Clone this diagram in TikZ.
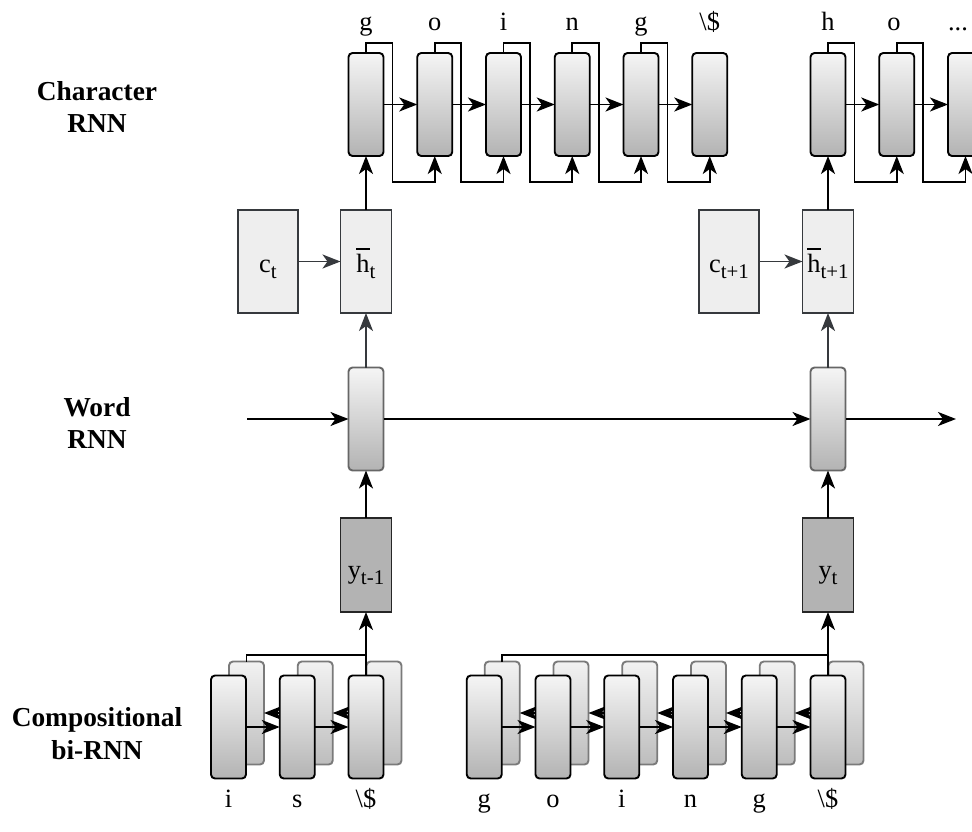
\documentclass[tikz,border=0pt]{standalone}
\usepackage{fontspec}
\setmainfont{Liberation Serif}
\usetikzlibrary{arrows.meta}

\definecolor{cellTop}{HTML}{F5F5F5}
\definecolor{cellBot}{HTML}{B3B3B3}
\definecolor{boxFill}{HTML}{EEEEEE}
\definecolor{boxLine}{HTML}{36393D}
\definecolor{outFill}{HTML}{B3B3B3}
\definecolor{softLine}{HTML}{666666}
\definecolor{backLine}{HTML}{7A7A7A}
\definecolor{backTop}{HTML}{F2F2F2}
\definecolor{backBot}{HTML}{BDBDBD}

% subscript as set in the boxes (takes no vertical room)
\newcommand\sbs[1]{\raisebox{-6bp}[0pt][0pt]{\fontsize{21}{21}\selectfont #1}}
% h with a bar over it
\newcommand\barh{\leavevmode\setbox0\hbox{h}\rlap{\raisebox{\dimexpr\ht0+4bp\relax}[0pt][0pt]{\rule{\wd0}{1.3bp}}}h}

\begin{document}
\begin{tikzpicture}[x=1bp,y=-1bp,
  cellbox/.style={draw=black, line width=1.9bp, rounded corners=4bp,
    top color=cellTop, bottom color=cellBot,
    minimum width=35bp, minimum height=103bp, inner sep=0pt, outer sep=0pt},
  wordcell/.style={cellbox, draw=softLine},
  backcell/.style={cellbox, draw=backLine, top color=backTop, bottom color=backBot},
  hidbox/.style={draw=boxLine, fill=boxFill, line width=1.9bp,
    minimum width=51bp, minimum height=103bp, inner sep=0pt, outer sep=0pt,
    text height=21bp, text depth=0bp,
    font=\fontsize{26.5}{32}\selectfont},
  outbox/.style={hidbox, fill=outFill, draw=black!85, minimum height=94bp,
    text height=26bp},
  lett/.style={anchor=base, inner sep=0pt, font=\fontsize{26.5}{32}\selectfont},
  lbl/.style={align=center, inner sep=0pt, font=\fontsize{27.5}{33}\selectfont\bfseries},
  tip/.style={-{Stealth[length=18bp,width=14bp,inset=5bp]}},
  arr/.style={line width=1.8bp, tip},
  darr/.style={line width=1.8bp, draw=boxLine, tip},
  plain/.style={line width=1.8bp}
]
\useasboundingbox (0,0) rectangle (972,832);
\clip (0,0) rectangle (972,832);

% ---------- left-hand labels ----------
\node[lbl] (lchar) at (97,107) {Character\\RNN};
\node[lbl] (lword) at (97,423) {Word\\RNN};
\node[lbl] (lcomp) at (97,734) {Compositional\\bi-RNN};

% ---------- character RNN, first word ----------
\foreach \i/\x in {1/366,2/434.75,3/503.5,4/572.25,5/641,6/709.75}
  \node[cellbox] (a\i) at (\x,104.5) {};
\foreach \i/\x/\t in {1/366/g,2/434.75/o,3/503.5/i,4/572.25/n,5/641/g,6/709.75/\textbackslash\$}
  \node[lett] (ta\i) at (\x,30) {\t};
\foreach \i/\j in {1/2,2/3,3/4,4/5,5/6}{
  \draw[arr] (a\i.east) -- (a\j.west);
  \draw[arr] (a\i.north) |- ++(26.5,-10) -- ++(0,139) -| (a\j.south);
}

% ---------- character RNN, second word ----------
\foreach \i/\x in {1/828,2/896.75,3/965.5}
  \node[cellbox] (b\i) at (\x,104.5) {};
\node[lett] (tb1) at (828,30) {h};
\node[lett] (tb2) at (894,30) {o};
\node[lett] (tb3) at (958,30) {...};
\foreach \i/\j in {1/2,2/3}{
  \draw[arr] (b\i.east) -- (b\j.west);
  \draw[arr] (b\i.north) |- ++(26.5,-10) -- ++(0,139) -| (b\j.south);
}

% ---------- context and hidden state ----------
\node[hidbox, minimum width=60bp] (c1) at (268,261.5) {c\sbs{t}};
\node[hidbox] (h1) at (366,261.5) {\barh\sbs{t}};
\node[hidbox, minimum width=60bp] (c2) at (729,261.5) {c\sbs{t+1}};
\node[hidbox] (h2) at (828,261.5) {\barh\sbs{t+1}};
\draw[darr] (c1) -- (h1);
\draw[darr] (c2) -- (h2);
\draw[arr] (h1.north) -- (a1.south);
\draw[arr] (h2.north) -- (b1.south);

% ---------- word RNN ----------
\node[wordcell] (w1) at (366,419) {};
\node[wordcell] (w2) at (828,419) {};
\coordinate (ws) at (247,419);
\coordinate (we) at (956,419);
\draw[arr] (ws) -- (w1.west);
\draw[arr] (w1.east) -- (w2.west);
\draw[arr] (w2.east) -- (we);
\draw[darr] (w1.north) -- (h1.south);
\draw[darr] (w2.north) -- (h2.south);

% ---------- word embeddings ----------
\node[outbox] (y1) at (366,565) {y\sbs{t-1}};
\node[outbox] (y2) at (828,565) {y\sbs{t}};
\draw[arr] (y1.north) -- (w1.south);
\draw[arr] (y2.north) -- (w2.south);

% ---------- compositional bi-RNN, first word ----------
\foreach \i/\x in {1/228.5,2/297.25,3/366}
  \node[backcell] (r\i) at (\x+18,713) {};
\foreach \i/\j in {1/2,2/3}
  \draw[arr] (r\j.west) -- (r\i.east);
\foreach \i/\x in {1/228.5,2/297.25,3/366}
  \node[cellbox] (f\i) at (\x,727) {};
\foreach \i/\j in {1/2,2/3}
  \draw[arr] (f\i.east) -- (f\j.west);
\foreach \i/\x/\t in {1/228.5/i,2/297.25/s,3/366/\textbackslash\$}
  \node[lett] (tf\i) at (\x,807) {\t};
\coordinate (j1) at (366,655);
\draw[plain] (r1.north) |- (j1);
\draw[arr] (f3.north) -- (y1.south);

% ---------- compositional bi-RNN, second word ----------
\foreach \i/\x in {1/484.25,2/553,3/621.75,4/690.5,5/759.25,6/828}
  \node[backcell] (s\i) at (\x+18,713) {};
\foreach \i/\j in {1/2,2/3,3/4,4/5,5/6}
  \draw[arr] (s\j.west) -- (s\i.east);
\foreach \i/\x in {1/484.25,2/553,3/621.75,4/690.5,5/759.25,6/828}
  \node[cellbox] (g\i) at (\x,727) {};
\foreach \i/\j in {1/2,2/3,3/4,4/5,5/6}
  \draw[arr] (g\i.east) -- (g\j.west);
\foreach \i/\x/\t in {1/484.25/g,2/553/o,3/621.75/i,4/690.5/n,5/759.25/g,6/828/\textbackslash\$}
  \node[lett] (tg\i) at (\x,807) {\t};
\coordinate (j2) at (828,655);
\draw[plain] (s1.north) |- (j2);
\draw[arr] (g6.north) -- (y2.south);
\end{tikzpicture}
\end{document}
